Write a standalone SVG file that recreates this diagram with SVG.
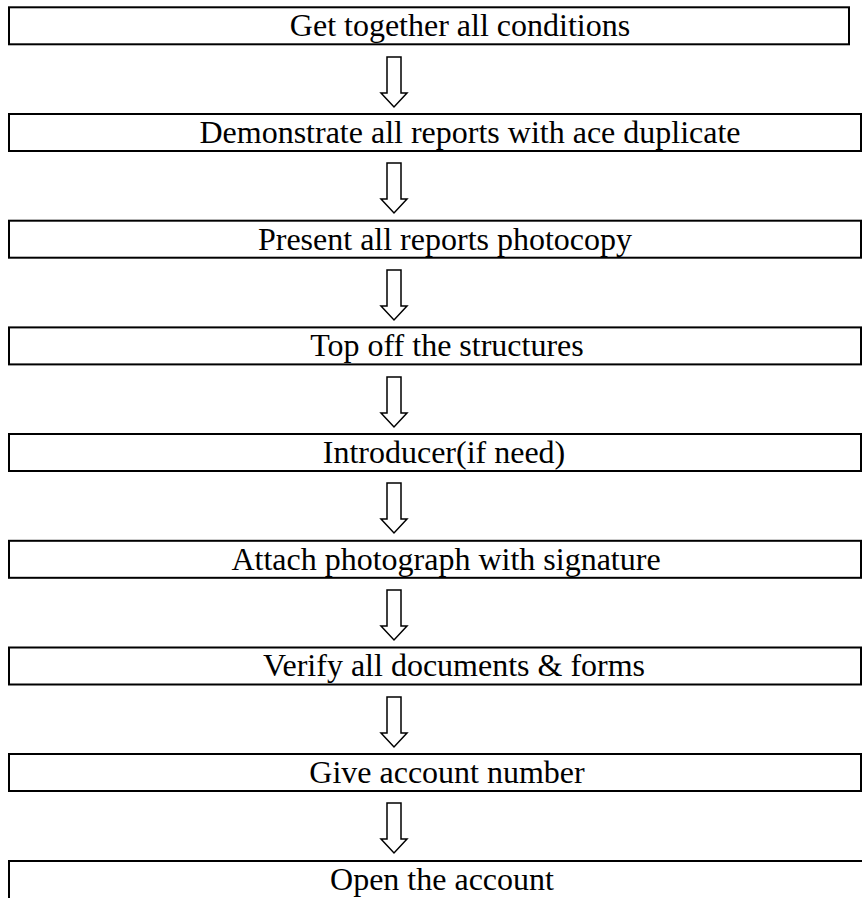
<svg xmlns="http://www.w3.org/2000/svg" width="862" height="898" viewBox="0 0 862 898">
<style>
.box{fill:#fff;stroke:#000;stroke-width:2}
.lbl{font-family:"Liberation Serif",serif;font-size:32px;fill:#000;text-anchor:middle}
.arr{fill:#fff;stroke:#000;stroke-width:1.5;stroke-linejoin:miter}
</style>
<defs>
<path id="ar" d="M-7,0 H7 V36 H13 L0,50 L-13,36 H-7 Z"/>
</defs>
<rect width="862" height="898" fill="#fff"/>
<g id="connectors">
<use href="#ar" class="arr" x="394" y="57"/>
<use href="#ar" class="arr" x="394" y="163"/>
<use href="#ar" class="arr" x="394" y="270"/>
<use href="#ar" class="arr" x="394" y="377"/>
<use href="#ar" class="arr" x="394" y="483"/>
<use href="#ar" class="arr" x="394" y="590"/>
<use href="#ar" class="arr" x="394" y="697"/>
<use href="#ar" class="arr" x="394" y="803"/>
</g>
<g id="n1"><rect class="box" x="9" y="7.3" width="840" height="37"/><text class="lbl" x="460" y="36">Get together all conditions</text></g>
<g id="n2"><rect class="box" x="9" y="114" width="852" height="37"/><text class="lbl" x="470" y="143">Demonstrate all reports with ace duplicate</text></g>
<g id="n3"><rect class="box" x="9" y="220.7" width="852" height="37"/><text class="lbl" x="445" y="250">Present all reports photocopy</text></g>
<g id="n4"><rect class="box" x="9" y="327.4" width="852" height="37"/><text class="lbl" x="447" y="356">Top off the structures</text></g>
<g id="n5"><rect class="box" x="9" y="434" width="852" height="37"/><text class="lbl" x="444" y="463">Introducer(if need)</text></g>
<g id="n6"><rect class="box" x="9" y="540.8" width="852" height="37"/><text class="lbl" x="446" y="570">Attach photograph with signature</text></g>
<g id="n7"><rect class="box" x="9" y="647.5" width="852" height="37"/><text class="lbl" x="454" y="676">Verify all documents &amp; forms</text></g>
<g id="n8"><rect class="box" x="9" y="754" width="852" height="37"/><text class="lbl" x="447" y="783">Give account number</text></g>
<g id="n9"><path d="M9,900 V861 H863" fill="none" stroke="#000" stroke-width="2"/><text class="lbl" x="442" y="890">Open the account</text></g>
</svg>
